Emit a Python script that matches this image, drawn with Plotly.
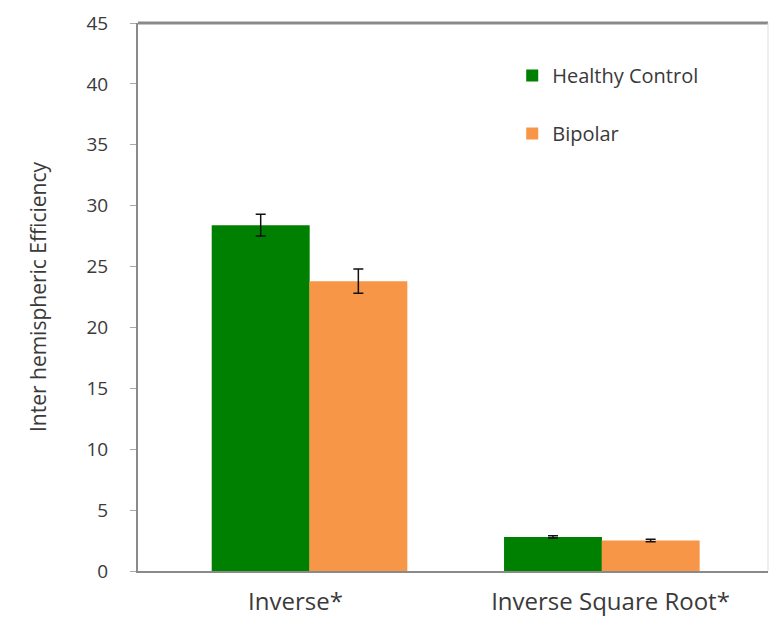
import plotly.graph_objects as go

# Inter-hemispheric efficiency by weighting scheme
categories = ["Inverse*", "Inverse Square Root*"]
healthy_control = [28.4, 2.8]
healthy_err = [0.9, 0.1]
bipolar = [23.8, 2.5]
bipolar_err = [1.0, 0.1]
y_ticks = [0, 5, 10, 15, 20, 25, 30, 35, 40, 45]

FONT = "'Open Sans', sans-serif"
TEXT = "#3a3a3a"
GREEN = "#008000"
ORANGE = "#F79646"

# bar placement within each category slot (in category units)
BAR_W = 0.311
HC_OFFSET = [-0.266, -0.338]
BP_OFFSET = [0.044, -0.028]

fig = go.Figure()
fig.add_trace(go.Bar(
    x=categories, y=healthy_control, name="Healthy Control",
    width=BAR_W, offset=HC_OFFSET,
    marker=dict(color=GREEN, line=dict(width=0)),
    error_y=dict(type="data", array=healthy_err, color="#111111", thickness=1.5, width=5),
    legendgroup="hc",
))
fig.add_trace(go.Bar(
    x=categories, y=bipolar, name="Bipolar",
    width=BAR_W, offset=BP_OFFSET,
    marker=dict(color=ORANGE, line=dict(width=0)),
    error_y=dict(type="data", array=bipolar_err, color="#111111", thickness=1.5, width=5),
    legendgroup="bp",
))

fig.update_layout(
    width=770, height=620,
    margin=dict(l=138, r=2, t=23, b=49),
    paper_bgcolor="white", plot_bgcolor="white",
    barmode="overlay",
    font=dict(family=FONT, color=TEXT),
    showlegend=True,
    legend=dict(
        x=0.594, y=0.94, xanchor="left", yanchor="top",
        font=dict(size=20, color=TEXT, family=FONT),
        bgcolor="rgba(0,0,0,0)", tracegroupgap=29,
        itemwidth=30,
    ),
    xaxis=dict(
        type="category", range=[-0.5, 1.5],
        showline=True, linecolor="#8a8a8a", linewidth=2,
        ticks="", showgrid=False, ticklabelstandoff=8,
        tickfont=dict(size=24, color=TEXT, family=FONT),
    ),
    yaxis=dict(
        range=[0, 45], tickvals=y_ticks,
        showline=True, linecolor="#8a8a8a", linewidth=2,
        ticks="outside", ticklen=6, tickcolor="#aaaaaa",
        showgrid=False, zeroline=False, ticklabelstandoff=18,
        tickfont=dict(size=19, color=TEXT, family=FONT),
        title=dict(text="Inter hemispheric Efficiency",
                   font=dict(size=21, color=TEXT, family=FONT), standoff=34),
    ),
    shapes=[
        dict(type="line", xref="paper", yref="paper", x0=0, x1=1, y0=1, y1=1,
             line=dict(color="#8a8a8a", width=3)),
        dict(type="line", xref="paper", yref="paper", x0=1, x1=1, y0=0, y1=1,
             line=dict(color="#dddddd", width=1)),
    ],
)

fig.write_html("out.html")
